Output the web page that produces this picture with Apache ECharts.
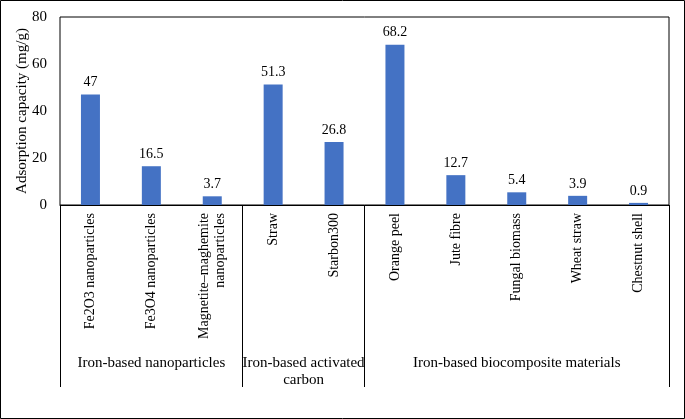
<!DOCTYPE html>
<html><head><meta charset="utf-8">
<script src="https://cdn.jsdelivr.net/npm/echarts@6/dist/echarts.min.js"></script>
<style>html,body{margin:0;padding:0;background:#fff}#c{width:685px;height:419px}</style>
</head><body><div id="c"></div>
<script>
const categories = ['Fe2O3 nanoparticles','Fe3O4 nanoparticles','Magnetite–maghemite\nnanoparticles','Straw','Starbon300','Orange peel','Jute fibre','Fungal biomass','Wheat straw','Chestnut shell'];
const values = [47, 16.5, 3.7, 51.3, 26.8, 68.2, 12.7, 5.4, 3.9, 0.9];
const groupNames = ['Iron-based nanoparticles','Iron-based activated\ncarbon','Iron-based biocomposite materials'];
const groupSizes = [3, 2, 5];
const yTicks = [0, 20, 40, 60, 80];

const bounds = [0]; groupSizes.forEach(s => bounds.push(bounds[bounds.length-1] + s));
const centers = groupSizes.map((s, i) => bounds[i] + s / 2);
const font = 'Liberation Serif, Times New Roman, serif';

const chart = echarts.init(document.getElementById('c'));
chart.setOption({
  animation: false,
  textStyle: { fontFamily: font },
  graphic: [{ type: 'rect', shape: { x: 0.5, y: 0.5, width: 684, height: 418 }, style: { fill: 'none', stroke: '#000', lineWidth: 1 } }],
  grid: { left: 60, top: 17, width: 609, height: 188, show: true, borderColor: '#000', borderWidth: 1, containLabel: false },
  xAxis: [
    { type: 'category', data: categories, axisLine: { lineStyle: { color: '#000' } }, axisTick: { show: false },
      axisLabel: { rotate: 90, margin: 8, fontSize: 14, color: '#000', fontFamily: font, interval: 0, lineHeight: 16 } },
    { type: 'value', min: bounds[0], max: bounds[bounds.length-1], position: 'bottom',
      axisLine: { show: false }, splitLine: { show: false },
      axisTick: { show: true, customValues: bounds, length: 182, lineStyle: { color: '#000', width: 1 } },
      axisLabel: { customValues: centers, margin: 150, fontSize: 15, color: '#000', fontFamily: font, lineHeight: 17,
        formatter: v => { const i = centers.indexOf(v); return i >= 0 ? groupNames[i] : ''; } } }
  ],
  yAxis: { type: 'value', min: yTicks[0], max: yTicks[yTicks.length-1], interval: 20,
    name: 'Adsorption capacity (mg/g)', nameLocation: 'middle', nameGap: 30, nameMoveOverlap: false,
    nameTextStyle: { fontSize: 15, color: '#000', fontFamily: font },
    axisLine: { show: false }, axisTick: { show: false }, splitLine: { show: false },
    axisLabel: { fontSize: 15, color: '#000', margin: 13, fontFamily: font } },
  series: [{ type: 'bar', data: values, barWidth: 19, xAxisIndex: 0,
    itemStyle: { color: '#4472C4' },
    label: { show: true, position: 'top', distance: 5, fontSize: 14, color: '#000', fontFamily: font } }]
});
</script></body></html>
